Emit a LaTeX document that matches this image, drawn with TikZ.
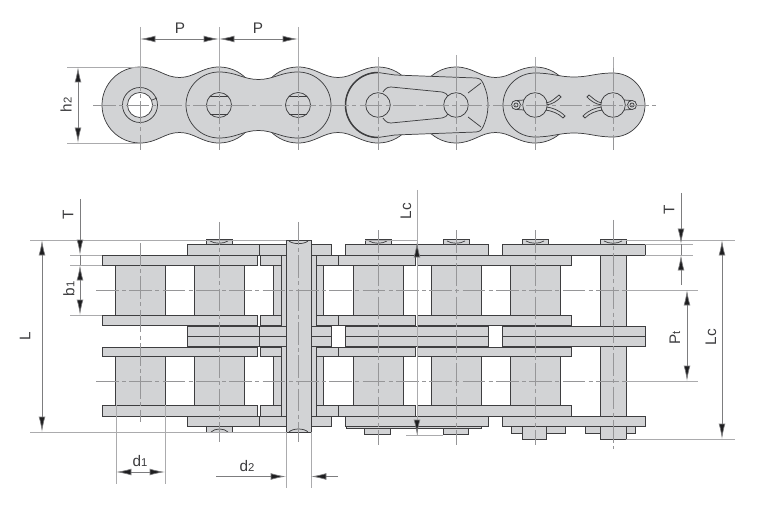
\documentclass[tikz,border=0pt]{standalone}
\usepackage{fontspec}
\setmainfont{Liberation Sans}
\usetikzlibrary{arrows.meta,positioning,calc}

\definecolor{steel}{RGB}{210,211,213}
\definecolor{edge}{RGB}{62,62,64}
\definecolor{axis}{RGB}{150,150,152}
\definecolor{dimline}{RGB}{125,125,127}
\definecolor{dimtext}{RGB}{60,60,62}
\definecolor{tip}{RGB}{30,30,32}

\newcommand{\sub}[1]{{\fontsize{8.5}{10}\selectfont #1}}

% side plate of one link, centre line at y=105
\newcommand{\linkplate}[4]{
\draw[plate] (#1,{105-#3}) .. controls ({#1+17},{105-#3}) and ({(#1+#2)/2-15},{105-#4}) .. ({(#1+#2)/2},{105-#4})
  .. controls ({(#1+#2)/2+15},{105-#4}) and ({#2-17},{105-#3}) .. (#2,{105-#3})
  arc[start angle=-90,end angle=90,radius=#3]
  .. controls ({#2-17},{105+#3}) and ({(#1+#2)/2+15},{105+#4}) .. ({(#1+#2)/2},{105+#4})
  .. controls ({(#1+#2)/2-15},{105+#4}) and ({#1+17},{105+#3}) .. (#1,{105+#3})
  arc[start angle=90,end angle=270,radius=#3] -- cycle;
}

\begin{document}
\begin{tikzpicture}[x=0.75pt, y=-0.75pt, >={Latex[length=11.5pt,width=5pt,fill=tip]}]
\tikzset{plate/.style={fill=steel,draw=edge,line width=0.55pt},
         thin edge/.style={draw=edge,line width=0.55pt},
         centerline/.style={draw=axis,line width=0.6pt,dash pattern=on 17pt off 2.5pt on 3pt off 2.5pt},
         extline/.style={draw=axis!80,line width=0.5pt},
         dimension/.style={draw=dimline,line width=0.5pt},
         dimlabel/.style={text=dimtext,font=\fontsize{11.5}{13}\selectfont,inner sep=0pt}}

\useasboundingbox (0,0) rectangle (764,506);

% top view: plates
\linkplate{140}{219}{38}{27.5}
\linkplate{298}{378}{38}{27.5}
\linkplate{456}{535}{38}{27.5}
\linkplate{219}{298}{33}{25.5}
\linkplate{535}{613}{32}{28}

% spring clip plate
\draw[plate] (378,137.5) arc[start angle=90,end angle=270,radius=32.5]
  -- (395,75) -- (476,78) .. controls (481,78.5) and (482,81) .. (483,83)
  .. controls (487,92) and (488,98) .. (488,105) .. controls (488,112) and (487,118) .. (483,127)
  .. controls (482,129) and (481,131.5) .. (476,132) -- (395,135) -- cycle;
\draw[edge,line width=1.1pt] (378,137.5) arc[start angle=90,end angle=270,radius=32.5];
\draw[thin edge] (383,92) .. controls (385,89) and (387,87) .. (391,87) -- (442,92) .. controls (445,92.5) and (447,94) .. (448,96);
\draw[thin edge] (383,118) .. controls (385,121) and (387,123) .. (391,123) -- (442,118) .. controls (445,117.5) and (447,116) .. (448,114);
\draw[thin edge] (468,93) -- (481,83);
\draw[thin edge] (468,117) -- (481,127);

% bushing and pins
\draw[thin edge,fill=steel] (140,105) circle[radius=17.5];
\draw[thin edge,fill=white] (140,105) circle[radius=12.5];
\draw[thin edge] (152,100) -- (157,98);
\foreach \px in {219,298}{
  \draw[thin edge] (\px,105) circle[radius=12.5];
  \draw[thin edge] ({\px-9},96) -- ({\px+9},96);
  \draw[thin edge] ({\px-9},114) -- ({\px+9},114);
}
\foreach \px in {378,456,535,613}
  \draw[thin edge] (\px,105) circle[radius=12.3];

% cotter pins
\foreach \px/\side in {535/1,613/-1}{
\begin{scope}[shift={(\px,105)},xscale=\side]
  \draw[thin edge] (-19,0) circle[radius=4.6];
  \draw[thin edge] (-19,0) circle[radius=2];
  \draw[thin edge] (-18,-4.5) -- (-11,-5);
  \draw[thin edge] (-18,4.5) -- (-11,5);
  \draw[thin edge] (11,-2) .. controls (17,-3) and (20,-7) .. (24,-10) -- (26,-8) .. controls (22,-4) and (18,-1) .. (11.5,0);
  \draw[thin edge] (11.5,2) .. controls (18,3) and (24,5) .. (30,11) -- (28,13) .. controls (23,8) and (17,6) .. (10.5,5);
\end{scope}
}

% top view: axes
\draw[centerline] (93,105) -- (657,105);
\foreach \px/\ptop in {140/27,219/27,298/27,378/57,456/55,535/57,613/57}{
  \draw[extline] (\px,\ptop) -- (\px,68);
  \draw[centerline] (\px,68) -- (\px,150);
}

% top view: dimensions
\coordinate (p0) at (140,39);
\coordinate (p1) at (219,39);
\coordinate (p2) at (298,39);
\draw[dimension,<->] (p0) -- (p1);
\draw[dimension,<->] (p1) -- (p2);
\node[dimlabel] (lblP1) at (180,28) {P};
\node[dimlabel] (lblP2) at (258,28) {P};
\coordinate (h0) at (78,67);
\coordinate (h1) at (78,143);
\draw[extline] (67,67) -- (140,67);
\draw[extline] (67,143) -- (140,143);
\draw[dimension,<->] (h0) -- (h1);
\node[dimlabel,rotate=90] (lblh) at (66,105) {h\sub{2}};

% side view: rollers and inner plates
\foreach \px in {140,219,298,378,456,535}{
  \draw[plate] ({\px-25},265) rectangle ({\px+25},315);
  \draw[plate] ({\px-25},356) rectangle ({\px+25},405);
}
\foreach \ya/\yb in {255/265.5,315/325.5,347/356,405/416}{
  \draw[plate] (102,\ya) rectangle (257,\yb);
  \draw[plate] (260,\ya) rectangle (415,\yb);
  \draw[plate] (417.5,\ya) rectangle (571.5,\yb);
  \draw[thin edge] (338,\ya) -- (338,\yb);
}

% pin with collar at second pitch, plain pin at the end
\draw[plate] (281,255) rectangle (316,416);
\draw[plate] (600,255) rectangle (626,439);

% side view: rivet heads
\foreach \px in {219,378,456,535,613}{
  \draw[plate] ({\px-13},239) rectangle ({\px+13},245);
  \draw[thin edge] ({\px-9},241) .. controls ({\px-4},244) and ({\px+4},244) .. ({\px+9},241);
}
\draw[plate] (206.5,426) rectangle (232,432);
\draw[thin edge] (211,432) .. controls (215,428) and (224,428) .. (228,432);
\draw[plate] (364,426) rectangle (390,434.7);
\draw[plate] (443,426) rectangle (468.6,434.7);
\draw[plate] (346,426) rectangle (481,428);
\draw[plate] (511,426) rectangle (565,433.7);
\draw[plate] (522,426) rectangle (546,439);
\draw[plate] (585,426) rectangle (635,433.7);
\draw[plate] (600,426) rectangle (626,439);

% side view: outer plates
\foreach \ya/\yb in {244/255,326/336,336/346.5,416/426}{
  \draw[plate] (187,\ya) rectangle (331,\yb);
  \draw[plate] (345,\ya) rectangle (488,\yb);
  \draw[plate] (502,\ya) rectangle (645,\yb);
  \draw[thin edge] (259,\ya) -- (259,\yb);
}

% long pin on top
\draw[plate] (286,240) rectangle (311,432);
\draw[thin edge] (289,241) .. controls (293,244.5) and (304,244.5) .. (308,241);
\draw[thin edge] (289,432) .. controls (293,428) and (304,428) .. (308,432);

% side view: axes
\draw[centerline] (96,290) -- (640,290);
\draw[centerline] (96,381) -- (640,381);
\foreach \px/\ya/\yb in {140/243/422,219/222/442,298/222/442,378/230/445,456/230/445,535/230/445,613/220/449}
  \draw[centerline] (\px,\ya) -- (\px,\yb);

% left dimensions
\draw[extline] (30,240) -- (286,240);
\draw[extline] (30,432) -- (286,432);
\draw[extline] (70,255) -- (102,255);
\draw[extline] (70,265) -- (102,265);
\draw[extline] (70,315) -- (102,315);
\coordinate (L0) at (42,240);
\coordinate (L1) at (42,432);
\draw[dimension,<->] (L0) -- (L1);
\node[dimlabel,rotate=90] (lblL) at (25,336) {L};
\coordinate (T0) at (80,199);
\coordinate (T1) at (80,255);
\coordinate (T2) at (80,265);
\coordinate (T3) at (80,315);
\draw[dimension,->] (T0) -- (T1);
\draw[dimension] (T1) -- (T2);
\draw[dimension,<->] (T2) -- (T3);
\node[dimlabel,rotate=90] (lblT) at (68,215) {T};
\node[dimlabel,rotate=90] (lblb) at (69,289) {b\sub{1}};

% lower dimensions
\draw[extline] (116,405) -- (116,484);
\draw[extline] (165,405) -- (165,484);
\coordinate (d0) at (116,472);
\coordinate (d1) at (165,472);
\draw[dimension,<->] (d0) -- (d1);
\node[dimlabel] (lbld) at (140,461) {d\sub{1}};
\draw[extline] (286,432) -- (286,488);
\draw[extline] (311,432) -- (311,488);
\coordinate (e0) at (216,476.5);
\coordinate (e1) at (286,476.5);
\coordinate (e2) at (311,476.5);
\coordinate (e3) at (338,476.5);
\draw[dimension,->] (e0) -- (e1);
\draw[dimension,->] (e3) -- (e2);
\node[dimlabel] (lble) at (247,466) {d\sub{2}};

% middle Lc
\draw[extline] (365,240) -- (417,240);
\draw[extline] (406,435) -- (443,435);
\coordinate (m0) at (417,190);
\coordinate (m1) at (417,242);
\coordinate (m2) at (417,435);
\draw[extline] (m0) -- (m2);
\draw[dimension,->] ($(m1)+(0,15)$) -- (m1);
\draw[dimension,->] ($(m2)+(0,-15)$) -- (m2);
\node[dimlabel,rotate=90] (lblm) at (406,211) {Lc};

% right dimensions
\draw[extline] (626,240) -- (735,240);
\draw[extline] (626,439) -- (735,439);
\draw[extline] (645,244) -- (693,244);
\draw[extline] (645,255) -- (693,255);
\draw[extline] (626,290) -- (698,290);
\draw[extline] (626,381) -- (698,381);
\coordinate (r0) at (681,193);
\coordinate (r1) at (681,244);
\coordinate (r2) at (681,255);
\coordinate (r3) at (681,285);
\draw[dimension,->] (r0) -- (r1);
\draw[dimension,->] (r3) -- (r2);
\draw[dimension] (r1) -- (r2);
\node[dimlabel,rotate=90] (lblr) at (669,210) {T};
\coordinate (t0) at (687,290);
\coordinate (t1) at (687,381);
\draw[dimension,<->] (t0) -- (t1);
\node[dimlabel,rotate=90] (lblt) at (675,338) {P\sub{t}};
\coordinate (c0) at (722,240);
\coordinate (c1) at (722,439);
\draw[dimension,<->] (c0) -- (c1);
\node[dimlabel,rotate=90] (lblc) at (711,337) {Lc};

\end{tikzpicture}
\end{document}
